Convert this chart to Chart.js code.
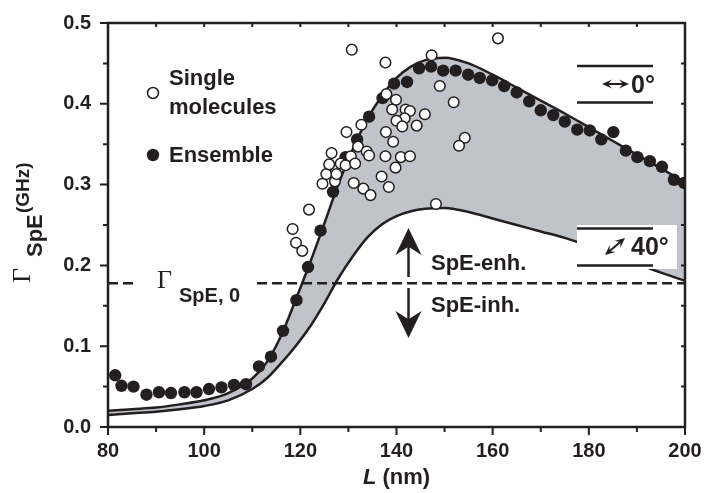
<!DOCTYPE html>
<html>
<head>
<meta charset="utf-8">
<script src="https://cdn.jsdelivr.net/npm/chart.js@4.4.1/dist/chart.umd.min.js"></script>
<style>
  html, body { margin: 0; padding: 0; background: #fff; }
  #wrap { width: 707px; height: 493px; }
</style>
</head>
<body>
<div id="wrap"><canvas id="chart" width="707" height="493"></canvas></div>
<script>
// Ensemble (filled dots)
const ensembleL = [81.5, 82.8, 85.3, 88.0, 90.6, 93.1, 95.9, 98.4, 101.0, 103.6, 106.2, 108.7, 111.4, 113.9, 116.4, 119.2,
  121.6, 124.2, 126.8, 129.4, 131.8, 134.3, 137.1, 139.5, 142.2, 144.7, 147.2, 149.7, 152.3, 154.9, 157.3, 159.9,
  162.4, 165.0, 167.6, 170.0, 172.6, 175.0, 177.6, 180.2, 182.6, 185.1, 187.7, 190.1, 192.7, 195.2, 197.7, 199.8];
const ensembleG = [0.064, 0.051, 0.050, 0.040, 0.043, 0.042, 0.043, 0.043, 0.047, 0.049, 0.052, 0.053, 0.075, 0.087, 0.119, 0.157,
  0.198, 0.243, 0.291, 0.334, 0.356, 0.384, 0.407, 0.425, 0.427, 0.444, 0.446, 0.441, 0.441, 0.436, 0.432, 0.429,
  0.422, 0.414, 0.403, 0.392, 0.386, 0.378, 0.368, 0.367, 0.356, 0.365, 0.342, 0.334, 0.329, 0.322, 0.306, 0.302];

// Single molecules (open circles)
const singleL = [118.4, 119.1, 120.4, 121.8, 124.6, 125.4, 126.5, 127.2, 127.5, 128.4, 129.4, 129.6, 130.5, 131.1, 131.4, 132.0,
  132.7, 133.1, 133.8, 134.6, 134.3, 130.7, 137.7, 137.9, 139.9, 139.1, 141.9, 142.8, 141.7, 140.0, 141.2, 137.8,
  144.2, 145.9, 139.3, 137.7, 140.9, 142.8, 139.8, 136.9, 138.4, 147.3, 149.0, 151.9, 154.2, 153.0, 148.2, 161.1, 126.0];
const singleG = [0.245, 0.228, 0.218, 0.269, 0.301, 0.313, 0.339, 0.304, 0.313, 0.326, 0.324, 0.365, 0.335, 0.302, 0.326, 0.347,
  0.374, 0.295, 0.341, 0.287, 0.336, 0.467, 0.451, 0.412, 0.405, 0.393, 0.393, 0.391, 0.382, 0.379, 0.372, 0.365,
  0.373, 0.387, 0.353, 0.335, 0.334, 0.335, 0.321, 0.310, 0.297, 0.460, 0.422, 0.402, 0.358, 0.348, 0.276, 0.481, 0.325];

// theory curves (0 deg upper, 40 deg lower)
const curveL = [80, 85, 90, 95, 100, 105, 110, 113, 116, 119, 122, 125, 128, 131, 134, 137, 140, 143, 146, 150,
  155, 160, 165, 170, 175, 180, 185, 190, 195, 200];
const upper0 = [0.020, 0.022, 0.024, 0.028, 0.033, 0.042, 0.060, 0.080, 0.113, 0.157, 0.203, 0.252, 0.302, 0.345, 0.382, 0.410,
  0.432, 0.446, 0.454, 0.457, 0.450, 0.436, 0.420, 0.404, 0.388, 0.371, 0.354, 0.337, 0.320, 0.303];
const lower40 = [0.015, 0.017, 0.019, 0.022, 0.026, 0.033, 0.047, 0.060, 0.079, 0.100, 0.124, 0.153, 0.185, 0.212, 0.235, 0.251,
  0.261, 0.267, 0.270, 0.271, 0.266, 0.258, 0.250, 0.242, 0.234, 0.224, 0.213, 0.202, 0.191, 0.181];

const gamma0 = 0.178;
const refL = [80, 86, 96, 111, 200]; // dashed reference line, gap left for its label

const INK = '#231f20';
const GRAY = '#c0c3ca';

function pts(xs, ys) { return xs.map((x, i) => ({ x: x, y: ys[i] })); }

function arrowHead(ctx, tx, ty, ang, len, half) {
  // stealth-style head with tip at (tx,ty), pointing along ang
  const c = Math.cos(ang), s = Math.sin(ang);
  const bx = tx - c * len, by = ty - s * len;
  ctx.beginPath();
  ctx.moveTo(tx, ty);
  ctx.lineTo(bx - s * half - c * 2, by + c * half - s * 2);
  ctx.lineTo(tx - c * len * 0.75, ty - s * len * 0.75);
  ctx.lineTo(bx + s * half - c * 2, by - c * half - s * 2);
  ctx.closePath();
  ctx.fill();
}

const decor = {
  id: 'decor',
  afterDraw(chart) {
    const ctx = chart.ctx;
    const a = chart.chartArea;
    const xs = chart.scales.x, ys = chart.scales.y;
    ctx.save();
    ctx.strokeStyle = INK;
    ctx.fillStyle = INK;

    // frame
    ctx.lineWidth = 2.5;
    ctx.strokeRect(a.left, a.top, a.right - a.left, a.bottom - a.top);

    // ticks
    ctx.lineWidth = 2;
    ctx.beginPath();
    for (let v = 0; v <= 0.5001; v += 0.05) {
      const y = ys.getPixelForValue(v);
      const major = Math.round(v * 100) % 10 === 0;
      ctx.moveTo(a.left - (major ? 8 : 5), y); ctx.lineTo(a.left, y);
      ctx.moveTo(a.right, y); ctx.lineTo(a.right - 4, y);
    }
    for (let v = 80; v <= 200; v += 10) {
      const x = xs.getPixelForValue(v);
      const major = v % 20 === 0;
      ctx.moveTo(x, a.bottom); ctx.lineTo(x, a.bottom + (major ? 8 : 5));
      ctx.moveTo(x, a.top); ctx.lineTo(x, a.top + 4);
    }
    ctx.stroke();

    // y title: Gamma_SpE^(GHz), rotated
    ctx.save();
    ctx.translate(0, 283);
    ctx.rotate(-Math.PI / 2);
    ctx.textBaseline = 'alphabetic';
    ctx.font = '26px "Liberation Serif", "DejaVu Serif", serif';
    ctx.fillText('\u0393', 0, 30);
    ctx.font = 'bold 22px "Liberation Sans", Arial, sans-serif';
    ctx.fillText('SpE', 26, 42);
    ctx.font = 'bold 19px "Liberation Sans", Arial, sans-serif';
    ctx.fillText('(GHz)', 70, 29);
    ctx.restore();

    // x title
    ctx.textBaseline = 'alphabetic';
    ctx.font = 'italic bold 22px "Liberation Sans", Arial, sans-serif';
    const lw = ctx.measureText('L').width;
    ctx.font = 'bold 22px "Liberation Sans", Arial, sans-serif';
    const rw = ctx.measureText(' (nm)').width;
    const x0 = (a.left + a.right) / 2 - (lw + rw) / 2;
    ctx.font = 'italic bold 22px "Liberation Sans", Arial, sans-serif';
    ctx.fillText('L', x0, 484);
    ctx.font = 'bold 22px "Liberation Sans", Arial, sans-serif';
    ctx.fillText(' (nm)', x0 + lw, 484);

    // legend
    ctx.lineWidth = 1.5;
    ctx.fillStyle = '#fff';
    ctx.beginPath(); ctx.arc(153, 93, 5.5, 0, Math.PI * 2); ctx.fill(); ctx.stroke();
    ctx.fillStyle = INK;
    ctx.beginPath(); ctx.arc(153, 155, 6.2, 0, Math.PI * 2); ctx.fill();
    ctx.font = 'bold 22px "Liberation Sans", Arial, sans-serif';
    ctx.fillText('Single', 169, 85);
    ctx.fillText('molecules', 169, 114);
    ctx.fillText('Ensemble', 169, 162);

    // Gamma_SpE,0 label on the dashed line
    ctx.font = '26px "Liberation Serif", "DejaVu Serif", serif';
    ctx.fillText('\u0393', 157, 288);
    ctx.font = 'bold 20px "Liberation Sans", Arial, sans-serif';
    ctx.fillText('SpE, 0', 179, 302);

    // enhancement / inhibition arrows
    ctx.lineWidth = 2.5;
    ctx.beginPath();
    ctx.moveTo(408.5, 245); ctx.lineTo(408.5, 277);
    ctx.moveTo(408.5, 288); ctx.lineTo(408.5, 320);
    ctx.stroke();
    arrowHead(ctx, 408.5, 228, -Math.PI / 2, 25, 13);
    arrowHead(ctx, 408.5, 338, Math.PI / 2, 25, 13);
    ctx.font = 'bold 22px "Liberation Sans", Arial, sans-serif';
    ctx.fillText('SpE-enh.', 431, 270);
    ctx.fillText('SpE-inh.', 431, 312);

    // 0 deg box
    ctx.lineWidth = 2.5;
    ctx.beginPath();
    ctx.moveTo(577, 66); ctx.lineTo(653, 66);
    ctx.moveTo(577, 102.5); ctx.lineTo(653, 102.5);
    ctx.stroke();
    ctx.lineWidth = 2;
    ctx.beginPath(); ctx.moveTo(608, 84); ctx.lineTo(623, 84); ctx.stroke();
    arrowHead(ctx, 602, 84, Math.PI, 8, 4.5);
    arrowHead(ctx, 629, 84, 0, 8, 4.5);
    ctx.font = 'bold 25px "Liberation Sans", Arial, sans-serif';
    ctx.fillText('0\u00b0', 631, 93);

    // 40 deg box (white background)
    ctx.fillStyle = '#fff';
    ctx.fillRect(577, 225, 100, 44);
    ctx.fillStyle = INK;
    ctx.lineWidth = 2.5;
    ctx.beginPath();
    ctx.moveTo(577, 228.5); ctx.lineTo(653, 228.5);
    ctx.moveTo(577, 265.5); ctx.lineTo(653, 265.5);
    ctx.stroke();
    const ang = Math.atan2(238 - 255, 625 - 605);
    ctx.lineWidth = 2;
    ctx.beginPath();
    ctx.moveTo(605 + Math.cos(ang) * 5, 255 + Math.sin(ang) * 5);
    ctx.lineTo(625 - Math.cos(ang) * 5, 238 - Math.sin(ang) * 5);
    ctx.stroke();
    arrowHead(ctx, 625, 238, ang, 8, 4.5);
    arrowHead(ctx, 605, 255, ang + Math.PI, 8, 4.5);
    ctx.font = 'bold 25px "Liberation Sans", Arial, sans-serif';
    ctx.fillText('40\u00b0', 631, 255);

    ctx.restore();
  }
};

new Chart(document.getElementById('chart'), {
  type: 'scatter',
  data: {
    datasets: [
      {
        label: '0 deg',
        type: 'line',
        data: pts(curveL, upper0),
        borderColor: INK,
        borderWidth: 2.5,
        backgroundColor: GRAY,
        fill: 1,
        pointRadius: 0,
        cubicInterpolationMode: 'monotone',
        order: 4
      },
      {
        label: '40 deg',
        type: 'line',
        data: pts(curveL, lower40),
        borderColor: INK,
        borderWidth: 2.5,
        fill: false,
        pointRadius: 0,
        cubicInterpolationMode: 'monotone',
        order: 3
      },
      {
        label: 'Gamma SpE,0',
        type: 'line',
        data: refL.map((x, i) => ({ x: x, y: (i === 2 ? null : gamma0) })),
        borderColor: INK,
        borderWidth: 2.5,
        borderDash: [10, 5],
        spanGaps: false,
        fill: false,
        pointRadius: 0,
        order: 2
      },
      {
        label: 'Ensemble',
        data: pts(ensembleL, ensembleG),
        pointRadius: 6.2,
        pointBackgroundColor: INK,
        pointBorderWidth: 0,
        order: 1
      },
      {
        label: 'Single molecules',
        data: pts(singleL, singleG),
        pointRadius: 5.3,
        pointBackgroundColor: '#fff',
        pointBorderColor: INK,
        pointBorderWidth: 1.5,
        order: 0
      }
    ]
  },
  options: {
    responsive: false,
    animation: false,
    devicePixelRatio: 1,
    layout: { padding: { top: 23, right: 22, left: 0, bottom: 0 } },
    plugins: { legend: { display: false }, tooltip: { enabled: false } },
    scales: {
      x: {
        type: 'linear',
        min: 80, max: 200,
        grid: { display: false, drawTicks: false },
        border: { display: false },
        ticks: {
          stepSize: 20,
          padding: 12,
          color: INK,
          font: { family: '"Liberation Sans", Arial, sans-serif', size: 20, weight: 'bold' }
        },
        afterFit(scale) {
          scale.height = 66;
          scale.paddingLeft = 0; scale.paddingRight = 0;
        }
      },
      y: {
        min: 0, max: 0.5,
        grid: { display: false, drawTicks: false },
        border: { display: false },
        ticks: {
          stepSize: 0.1,
          padding: 17,
          color: INK,
          font: { family: '"Liberation Sans", Arial, sans-serif', size: 20, weight: 'bold' },
          callback: v => v.toFixed(1)
        },
        afterFit(scale) {
          scale.width = 108;
          scale.paddingTop = 0; scale.paddingBottom = 0;
        }
      }
    }
  },
  plugins: [decor]
});
</script>
</body>
</html>
